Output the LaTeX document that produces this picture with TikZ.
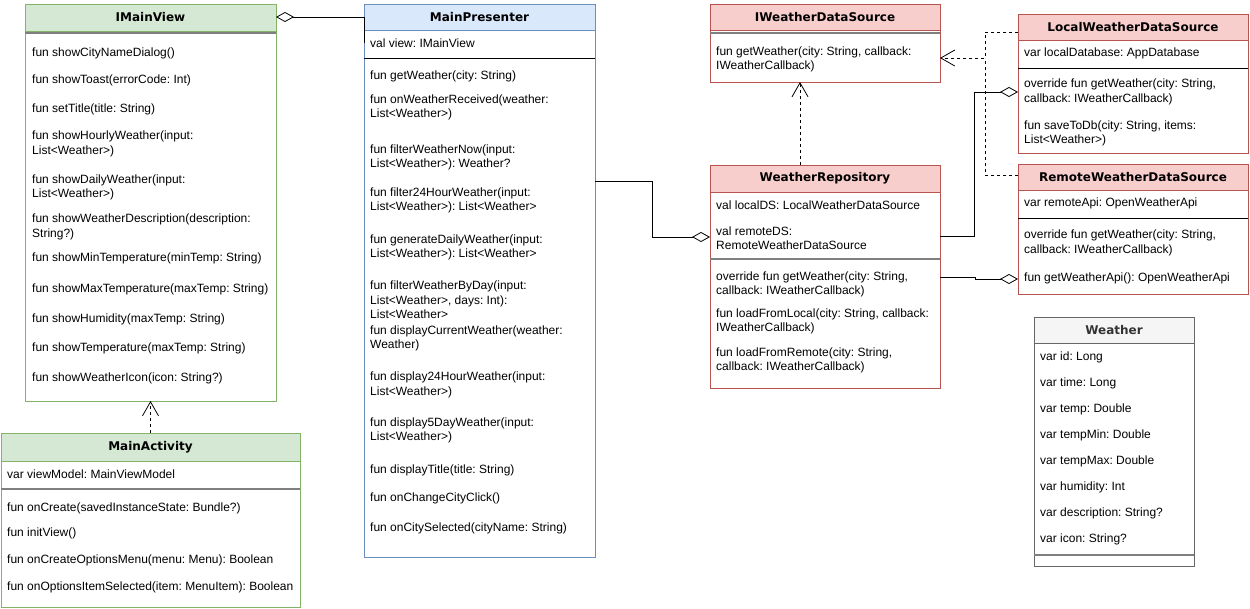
\documentclass[tikz,border=0pt]{standalone}
\usepackage{fontspec}
\setmainfont{Liberation Sans}
\newfontfamily\hdrf{DejaVu Sans}
\usetikzlibrary{arrows.meta,calc}
\frenchspacing
\definecolor{gfill}{HTML}{D5E8D4}
\definecolor{gdraw}{HTML}{82B366}
\definecolor{bfill}{HTML}{DAE8FC}
\definecolor{bdraw}{HTML}{6C8EBF}
\definecolor{rfill}{HTML}{F8CECC}
\definecolor{rdraw}{HTML}{B85450}
\definecolor{wfill}{HTML}{F5F5F5}
\definecolor{wdraw}{HTML}{666666}
\definecolor{sepgray}{HTML}{7F7F7F}
\definecolor{hdrtext}{HTML}{333333}
\tikzset{
  clsbody/.style={fill=white, line width=0.8pt, anchor=north west, inner sep=0pt, outer sep=0pt},
  clshead/.style={line width=0.8pt, anchor=north west, inner sep=0pt, outer sep=0pt,
    font=\hdrf\bfseries\fontsize{12}{14}\selectfont},
  item/.style={anchor=west, inner sep=0pt, align=left, font=\frenchspacing\fontsize{12}{14.5}\selectfont},
  sepg/.style={draw=sepgray, line width=2pt},
  sepb/.style={draw=black, line width=0.8pt},
  agg/.style={line width=0.8pt, {Diamond[open, fill=white, length=18pt, width=10pt]}-},
  real/.style={line width=0.8pt, dash pattern=on 3pt off 3pt, -{Straight Barb[length=14pt, width=16pt]}},
  realline/.style={line width=0.8pt, dash pattern=on 3pt off 3pt},
}
\newcommand\classbox[9]{%
  \node[clsbody, draw=#8, minimum width=#4pt, minimum height=#5pt] (#1) at (#2,#3) {};
  \node[clshead, draw=#8, fill=#7, minimum width=#4pt, minimum height=#6pt] (#1h) at (#2,#3) {#9};
}
\newcommand\itm[4]{\node[item] (#1) at (#2,#3) {#4};}
\newcommand\sepline[3]{\draw[#3] ([yshift=-#2pt]#1.north west) -- ([yshift=-#2pt]#1.north east);}
\begin{document}
\begin{tikzpicture}[x=1pt,y=-1pt]
\useasboundingbox (0,0) rectangle (1250,608);

% IMainView
\classbox{imv}{25}{4}{251}{397}{27}{gfill}{gdraw}{IMainView}
\sepline{imv}{29}{sepg}
\itm{imv1}{32}{53}{fun showCityNameDialog()}
\itm{imv2}{32}{80}{fun showToast(errorCode: Int)}
\itm{imv3}{32}{109}{fun setTitle(title: String)}
\itm{imv4}{32}{144}{fun showHourlyWeather(input:\\List<Weather>)}
\itm{imv5}{32}{187.5}{fun showDailyWeather(input:\\List<Weather>)}
\itm{imv6}{32}{227}{fun showWeatherDescription(description:\\String?)}
\itm{imv7}{32}{258}{fun showMinTemperature(minTemp: String)}
\itm{imv8}{32}{289}{fun showMaxTemperature(maxTemp: String)}
\itm{imv9}{32}{319}{fun showHumidity(maxTemp: String)}
\itm{imv10}{32}{348}{fun showTemperature(maxTemp: String)}
\itm{imv11}{32}{378}{fun showWeatherIcon(icon: String?)}

% MainActivity
\classbox{ma}{1}{433}{299}{174}{28}{gfill}{gdraw}{MainActivity}
\sepline{ma}{56}{sepg}
\itm{ma1}{7}{474}{var viewModel: MainViewModel}
\itm{ma2}{7}{508}{fun onCreate(savedInstanceState: Bundle?)}
\itm{ma3}{7}{533}{fun initView()}
\itm{ma4}{7}{560}{fun onCreateOptionsMenu(menu: Menu): Boolean}
\itm{ma5}{7}{587}{fun onOptionsItemSelected(item: MenuItem): Boolean}

% MainPresenter
\classbox{mp}{364}{4}{231}{553}{26}{bfill}{bdraw}{MainPresenter}
\sepline{mp}{54}{sepb}
\itm{mp1}{370}{43}{val view: IMainView}
\itm{mp2}{370}{76}{fun getWeather(city: String)}
\itm{mp3}{370}{107.5}{fun onWeatherReceived(weather:\\List<Weather>)}
\itm{mp4}{370}{157.5}{fun filterWeatherNow(input:\\List<Weather>): Weather?}
\itm{mp5}{370}{200.5}{fun filter24HourWeather(input:\\List<Weather>): List<Weather>}
\itm{mp6}{370}{247.5}{fun generateDailyWeather(input:\\List<Weather>): List<Weather>}
\itm{mp7}{370}{300}{fun filterWeatherByDay(input:\\List<Weather>, days: Int):\\List<Weather>}
\itm{mp8}{370}{338.5}{fun displayCurrentWeather(weather:\\Weather)}
\itm{mp9}{370}{385}{fun display24HourWeather(input:\\List<Weather>)}
\itm{mp10}{370}{430.5}{fun display5DayWeather(input:\\List<Weather>)}
\itm{mp11}{370}{470}{fun displayTitle(title: String)}
\itm{mp12}{370}{498}{fun onChangeCityClick()}
\itm{mp13}{370}{528}{fun onCitySelected(cityName: String)}

% IWeatherDataSource
\classbox{iwds}{710}{4}{230}{78}{26}{rfill}{rdraw}{IWeatherDataSource}
\sepline{iwds}{29}{sepg}
\itm{iwds1}{716}{59.5}{fun getWeather(city: String, callback:\\IWeatherCallback)}

% WeatherRepository
\classbox{wr}{710}{165}{230}{223}{27}{rfill}{rdraw}{WeatherRepository}
\sepline{wr}{94}{sepg}
\itm{wr1}{716}{205}{val localDS: LocalWeatherDataSource}
\itm{wr2}{716}{238}{val remoteDS:\\RemoteWeatherDataSource}
\itm{wr3}{716}{284.5}{override fun getWeather(city: String,\\callback: IWeatherCallback)}
\itm{wr4}{716}{321.5}{fun loadFromLocal(city: String, callback:\\IWeatherCallback)}
\itm{wr5}{716}{360.5}{fun loadFromRemote(city: String,\\callback: IWeatherCallback)}

% LocalWeatherDataSource
\classbox{lwds}{1018}{14}{230}{139}{26}{rfill}{rdraw}{LocalWeatherDataSource}
\sepline{lwds}{54}{sepb}
\itm{lw1}{1024}{53}{var localDatabase: AppDatabase}
\itm{lw2}{1024}{92}{override fun getWeather(city: String,\\callback: IWeatherCallback)}
\itm{lw3}{1024}{133.5}{fun saveToDb(city: String, items:\\List<Weather>)}

% RemoteWeatherDataSource
\classbox{rwds}{1018}{164}{230}{130}{26}{rfill}{rdraw}{RemoteWeatherDataSource}
\sepline{rwds}{54}{sepb}
\itm{rw1}{1024}{203}{var remoteApi: OpenWeatherApi}
\itm{rw2}{1024}{243}{override fun getWeather(city: String,\\callback: IWeatherCallback)}
\itm{rw3}{1024}{278}{fun getWeatherApi(): OpenWeatherApi}

% Weather
\classbox{wth}{1034}{317}{160}{249}{26}{wfill}{wdraw}{\textcolor{hdrtext}{Weather}}
\sepline{wth}{238}{sepg}
\itm{wt1}{1040}{357}{var id: Long}
\itm{wt2}{1040}{383}{var time: Long}
\itm{wt3}{1040}{409}{var temp: Double}
\itm{wt4}{1040}{435}{var tempMin: Double}
\itm{wt5}{1040}{461}{var tempMax: Double}
\itm{wt6}{1040}{487}{var humidity: Int}
\itm{wt7}{1040}{513}{var description: String?}
\itm{wt8}{1040}{539}{var icon: String?}

% connectors
\draw[agg] ([yshift=-13pt]imv.north east) -| (mp.west |- mp1.west);
\draw[real] (ma.north) -- (ma.north |- imv.south);

\coordinate (e2a) at ([yshift=-177pt]mp.north east);
\coordinate (e2b) at ([yshift=-72pt]wr.north west);
\draw[agg] (e2b) -- ++(-58,0) |- (e2a);

\draw[real] ([xshift=-25pt]wr.north) -- ([xshift=-25pt]iwds.south);

\coordinate (r1) at ([yshift=-18pt]lwds.north west);
\coordinate (r2) at ([yshift=-54pt]iwds.north east);
\coordinate (r3) at ([yshift=-11pt]rwds.north west);
\coordinate (rj) at ($(r2)+(45,0)$);
\draw[real] (r1) -| (rj) -- (r2);
\draw[realline] (r3) -| (rj);

\coordinate (a1) at ([yshift=-71pt]wr.north east);
\coordinate (a2) at ([yshift=-78pt]lwds.north west);
\draw[agg] (a2) -- ++(-44,0) |- (a1);

\coordinate (b1) at ([yshift=-112pt]wr.north east);
\coordinate (b2) at ([yshift=-115pt]rwds.north west);
\draw[agg] (b2) -- ++(-43,0) |- (b1);
\end{tikzpicture}
\end{document}
